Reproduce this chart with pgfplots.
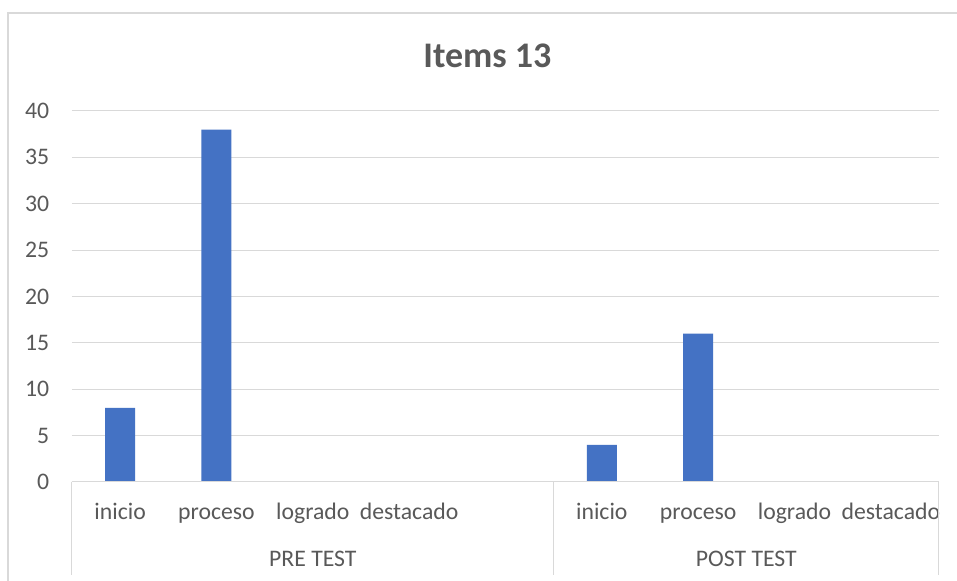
\documentclass[border=0pt]{standalone}
\usepackage{pgfplots}
\pgfplotsset{compat=1.18}
\usepackage{fontspec}
\setmainfont{Carlito}
\definecolor{txt}{HTML}{595959}
\definecolor{grd}{HTML}{D9D9D9}
\definecolor{barc}{HTML}{4472C4}
\begin{document}
\begin{tikzpicture}
\clip (-54pt,-74.25pt) rectangle (663.75pt,361.5pt);
\fill[white] (-54pt,-74.25pt) rectangle (663.75pt,361.5pt);
\draw[grd, line width=1pt] (-48pt,-90pt) -- (-48pt,351.75pt) -- (700pt,351.75pt);
\begin{axis}[
  at={(0,0)}, anchor=south west,
  width=650.25pt, height=278.25pt, scale only axis,
  xmin=-0.5, xmax=8.5, ymin=0, ymax=40,
  xtick={0,...,8},
  xticklabels={inicio,proceso,logrado,destacado,,inicio,proceso,logrado,destacado},
  ytick={0,5,...,40},
  ymajorgrids, grid style={grd, line width=0.75pt},
  axis line style={draw=none},
  major tick length=0pt,
  tick label style={font=\fontsize{17.8}{20}\selectfont, text=txt},
  /pgf/number format/assume math mode=true,
  xticklabel style={anchor=base, inner sep=0pt, yshift=-28.5pt},
  yticklabel style={anchor=east, inner sep=0pt, xshift=-17pt},
  clip=false,
]
\addplot[ybar, bar width=22.5pt, fill=barc, draw=none] coordinates {(0,8) (1,38) (2,0) (3,0) (5,4) (6,16) (7,0) (8,0)};
\draw[grd, line width=0.75pt] (axis cs:-0.5,0) -- (axis cs:8.5,0);
\draw[grd, line width=0.75pt] (axis cs:-0.5,0) -- ([yshift=-70pt]axis cs:-0.5,0);
\draw[grd, line width=0.75pt] (axis cs:4.5,0) -- ([yshift=-70pt]axis cs:4.5,0);
\draw[grd, line width=0.75pt] (axis cs:8.5,0) -- ([yshift=-70pt]axis cs:8.5,0);
\node[anchor=base, inner sep=0pt, font=\fontsize{17.8}{20}\selectfont, text=txt] at ([yshift=-63.75pt]axis cs:2,0) {PRE TEST};
\node[anchor=base, inner sep=0pt, font=\fontsize{17.8}{20}\selectfont, text=txt] at ([yshift=-63.75pt]axis cs:6.5,0) {POST TEST};
\end{axis}
\node[anchor=base, inner sep=0pt, font=\fontsize{27}{32}\selectfont\bfseries, text=txt] at (311.6pt,310.5pt) {Items 13};
\end{tikzpicture}
\end{document}
